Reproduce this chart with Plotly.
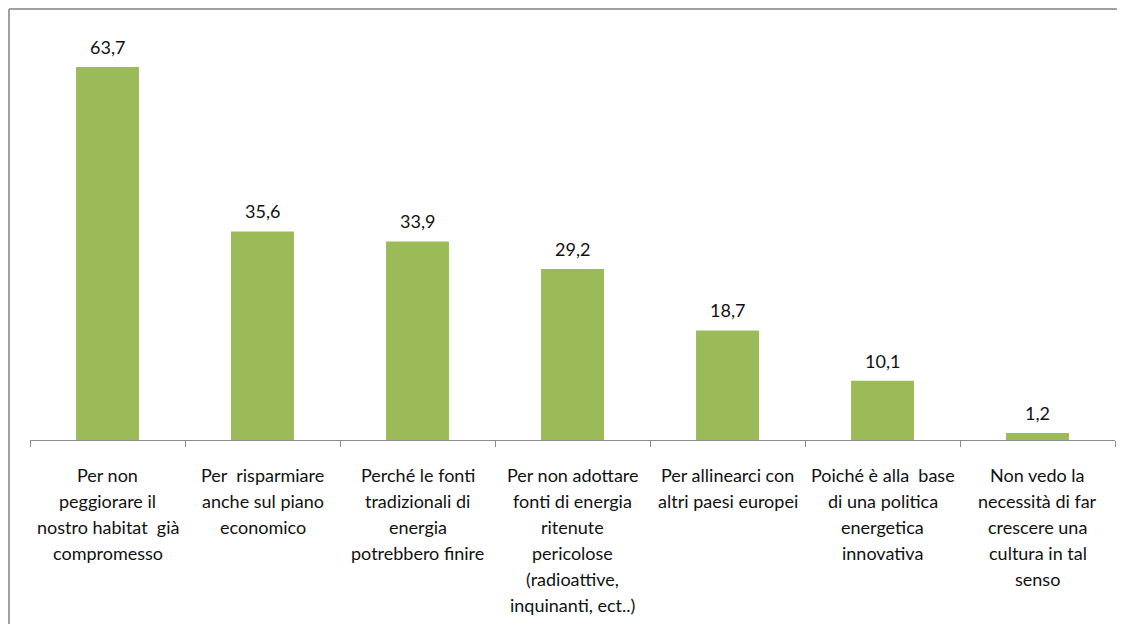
import plotly.graph_objects as go

categories = [
    "Per non<br>peggiorare il<br>nostro habitat  già<br>compromesso",
    "Per  risparmiare<br>anche sul piano<br>economico",
    "Perché le fonti<br>tradizionali di<br>energia<br>potrebbero finire",
    "Per non adottare<br>fonti di energia<br>ritenute<br>pericolose<br>(radioattive,<br>inquinanti, ect..)",
    "Per allinearci con<br>altri paesi europei",
    "Poiché è alla  base<br>di una politica<br>energetica<br>innovativa",
    "Non vedo la<br>necessità di far<br>crescere una<br>cultura in tal<br>senso",
]
values = [63.7, 35.6, 33.9, 29.2, 18.7, 10.1, 1.2]

FONT = "Lato"
TXT = "#111111"

fig = go.Figure(go.Bar(
    x=list(range(len(categories))),
    y=values,
    marker=dict(color="#9BBB59", line=dict(width=0)),
    width=0.406,
    hoverinfo="skip",
))

annotations = []
for i, (c, v) in enumerate(zip(categories, values)):
    annotations.append(dict(
        x=i, y=v, xref="x", yref="y", text=f"{v:.1f}".replace(".", ","),
        showarrow=False, yanchor="middle", yshift=20,
        font=dict(family=FONT, size=18, color=TXT)))
    for j, line in enumerate(c.split("<br>")):
        annotations.append(dict(
            x=i, y=0, xref="x", yref="y", text=line,
            showarrow=False, yanchor="middle", yshift=-(35 + 26 * j),
            font=dict(family=FONT, size=18, color=TXT)))

fig.update_layout(
    width=1109, height=616,
    margin=dict(l=22, r=2, t=22, b=184),
    paper_bgcolor="white", plot_bgcolor="white",
    showlegend=False,
    xaxis=dict(
        range=[-0.5, len(categories) - 0.5],
        tickmode="array", tickvals=[i - 0.5 for i in range(len(categories) + 1)],
        ticks="outside", ticklen=6, tickcolor="#8c8c8c", tickwidth=1,
        showticklabels=False, showline=True, linecolor="#8c8c8c", linewidth=1,
        showgrid=False, zeroline=False, fixedrange=True,
    ),
    yaxis=dict(range=[0, 70], visible=False, showgrid=False, zeroline=False),
    annotations=annotations,
    shapes=[
        dict(type="line", xref="paper", yref="paper", x0=-0.01935, x1=-0.01935,
             y0=-0.449, y1=1.0512, line=dict(color="#a0a0a0", width=2)),
        dict(type="line", xref="paper", yref="paper", x0=-0.01935, x1=1.0018,
             y0=1.0512, y1=1.0512, line=dict(color="#a0a0a0", width=2)),
    ],
)

fig.write_html("out.html", config={"displayModeBar": False})
